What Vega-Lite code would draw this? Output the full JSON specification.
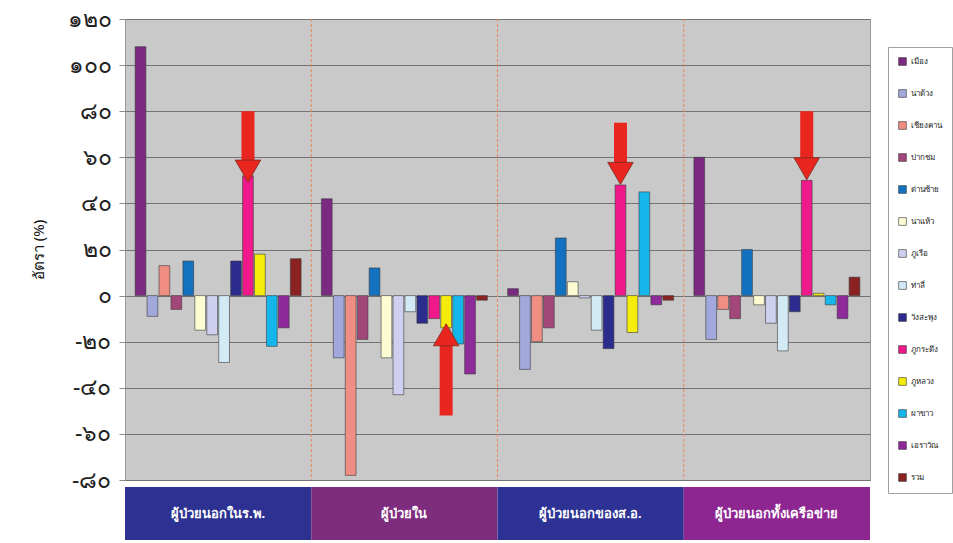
{
  "$schema": "https://vega.github.io/schema/vega-lite/v6.json",
  "padding": {"left": 30, "top": 7, "right": 0, "bottom": 0},
  "background": "white",
  "spacing": 7,
  "bounds": "flush",
  "config": {
    "font": "Noto Sans",
    "view": {"stroke": null},
    "legend": {
      "orient": "none",
      "legendX": 763,
      "legendY": 28,
      "title": null,
      "symbolType": "square",
      "symbolSize": 60,
      "symbolStrokeColor": "#333333",
      "symbolStrokeWidth": 0.6,
      "labelFontSize": 8,
      "labelColor": "#222222",
      "labelLimit": 40,
      "rowPadding": 21,
      "padding": 10,
      "strokeColor": "#a0a0a0",
      "fillColor": "white"
    }
  },
  "datasets": {
    "rates": [
      {"group": "ผู้ป่วยนอกในร.พ.", "district": "เมือง", "rate": 108},
      {"group": "ผู้ป่วยนอกในร.พ.", "district": "นาด้วง", "rate": -9},
      {"group": "ผู้ป่วยนอกในร.พ.", "district": "เชียงคาน", "rate": 13},
      {"group": "ผู้ป่วยนอกในร.พ.", "district": "ปากชม", "rate": -6},
      {"group": "ผู้ป่วยนอกในร.พ.", "district": "ด่านซ้าย", "rate": 15},
      {"group": "ผู้ป่วยนอกในร.พ.", "district": "นาแห้ว", "rate": -15},
      {"group": "ผู้ป่วยนอกในร.พ.", "district": "ภูเรือ", "rate": -17},
      {"group": "ผู้ป่วยนอกในร.พ.", "district": "ท่าลี่", "rate": -29},
      {"group": "ผู้ป่วยนอกในร.พ.", "district": "วังสะพุง", "rate": 15},
      {"group": "ผู้ป่วยนอกในร.พ.", "district": "ภูกระดึง", "rate": 52},
      {"group": "ผู้ป่วยนอกในร.พ.", "district": "ภูหลวง", "rate": 18},
      {"group": "ผู้ป่วยนอกในร.พ.", "district": "ผาขาว", "rate": -22},
      {"group": "ผู้ป่วยนอกในร.พ.", "district": "เอราวัณ", "rate": -14},
      {"group": "ผู้ป่วยนอกในร.พ.", "district": "รวม", "rate": 16},
      {"group": "ผู้ป่วยใน", "district": "เมือง", "rate": 42},
      {"group": "ผู้ป่วยใน", "district": "นาด้วง", "rate": -27},
      {"group": "ผู้ป่วยใน", "district": "เชียงคาน", "rate": -78},
      {"group": "ผู้ป่วยใน", "district": "ปากชม", "rate": -19},
      {"group": "ผู้ป่วยใน", "district": "ด่านซ้าย", "rate": 12},
      {"group": "ผู้ป่วยใน", "district": "นาแห้ว", "rate": -27},
      {"group": "ผู้ป่วยใน", "district": "ภูเรือ", "rate": -43},
      {"group": "ผู้ป่วยใน", "district": "ท่าลี่", "rate": -7},
      {"group": "ผู้ป่วยใน", "district": "วังสะพุง", "rate": -12},
      {"group": "ผู้ป่วยใน", "district": "ภูกระดึง", "rate": -10},
      {"group": "ผู้ป่วยใน", "district": "ภูหลวง", "rate": -14},
      {"group": "ผู้ป่วยใน", "district": "ผาขาว", "rate": -21},
      {"group": "ผู้ป่วยใน", "district": "เอราวัณ", "rate": -34},
      {"group": "ผู้ป่วยใน", "district": "รวม", "rate": -2},
      {"group": "ผู้ป่วยนอกของส.อ.", "district": "เมือง", "rate": 3},
      {"group": "ผู้ป่วยนอกของส.อ.", "district": "นาด้วง", "rate": -32},
      {"group": "ผู้ป่วยนอกของส.อ.", "district": "เชียงคาน", "rate": -20},
      {"group": "ผู้ป่วยนอกของส.อ.", "district": "ปากชม", "rate": -14},
      {"group": "ผู้ป่วยนอกของส.อ.", "district": "ด่านซ้าย", "rate": 25},
      {"group": "ผู้ป่วยนอกของส.อ.", "district": "นาแห้ว", "rate": 6},
      {"group": "ผู้ป่วยนอกของส.อ.", "district": "ภูเรือ", "rate": -1},
      {"group": "ผู้ป่วยนอกของส.อ.", "district": "ท่าลี่", "rate": -15},
      {"group": "ผู้ป่วยนอกของส.อ.", "district": "วังสะพุง", "rate": -23},
      {"group": "ผู้ป่วยนอกของส.อ.", "district": "ภูกระดึง", "rate": 48},
      {"group": "ผู้ป่วยนอกของส.อ.", "district": "ภูหลวง", "rate": -16},
      {"group": "ผู้ป่วยนอกของส.อ.", "district": "ผาขาว", "rate": 45},
      {"group": "ผู้ป่วยนอกของส.อ.", "district": "เอราวัณ", "rate": -4},
      {"group": "ผู้ป่วยนอกของส.อ.", "district": "รวม", "rate": -2},
      {"group": "ผู้ป่วยนอกทั้งเครือข่าย", "district": "เมือง", "rate": 60},
      {"group": "ผู้ป่วยนอกทั้งเครือข่าย", "district": "นาด้วง", "rate": -19},
      {"group": "ผู้ป่วยนอกทั้งเครือข่าย", "district": "เชียงคาน", "rate": -6},
      {"group": "ผู้ป่วยนอกทั้งเครือข่าย", "district": "ปากชม", "rate": -10},
      {"group": "ผู้ป่วยนอกทั้งเครือข่าย", "district": "ด่านซ้าย", "rate": 20},
      {"group": "ผู้ป่วยนอกทั้งเครือข่าย", "district": "นาแห้ว", "rate": -4},
      {"group": "ผู้ป่วยนอกทั้งเครือข่าย", "district": "ภูเรือ", "rate": -12},
      {"group": "ผู้ป่วยนอกทั้งเครือข่าย", "district": "ท่าลี่", "rate": -24},
      {"group": "ผู้ป่วยนอกทั้งเครือข่าย", "district": "วังสะพุง", "rate": -7},
      {"group": "ผู้ป่วยนอกทั้งเครือข่าย", "district": "ภูกระดึง", "rate": 50},
      {"group": "ผู้ป่วยนอกทั้งเครือข่าย", "district": "ภูหลวง", "rate": 1},
      {"group": "ผู้ป่วยนอกทั้งเครือข่าย", "district": "ผาขาว", "rate": -4},
      {"group": "ผู้ป่วยนอกทั้งเครือข่าย", "district": "เอราวัณ", "rate": -10},
      {"group": "ผู้ป่วยนอกทั้งเครือข่าย", "district": "รวม", "rate": 8}
    ],
    "arrows": [
      {"group": "ผู้ป่วยนอกในร.พ.", "district": "ภูกระดึง", "tail": 80, "head": 54, "direction": "down"},
      {"group": "ผู้ป่วยใน", "district": "ภูหลวง", "tail": -52, "head": -17, "direction": "up"},
      {"group": "ผู้ป่วยนอกของส.อ.", "district": "ภูกระดึง", "tail": 75, "head": 53, "direction": "down"},
      {"group": "ผู้ป่วยนอกทั้งเครือข่าย", "district": "ภูกระดึง", "tail": 80, "head": 55, "direction": "down"}
    ],
    "groups": [
      {"group": "ผู้ป่วยนอกในร.พ."},
      {"group": "ผู้ป่วยใน"},
      {"group": "ผู้ป่วยนอกของส.อ."},
      {"group": "ผู้ป่วยนอกทั้งเครือข่าย"}
    ]
  },
  "vconcat": [
    {
      "width": 745,
      "height": 461,
      "view": {"fill": "#c9c9c9", "stroke": "#9a9a9a"},
      "layer": [
        {
          "data": {"name": "rates"},
          "mark": {"type": "bar", "stroke": "#3a3a3a", "strokeWidth": 0.6},
          "encoding": {
            "x": {
              "field": "group", "type": "nominal",
              "scale": {"domain": ["ผู้ป่วยนอกในร.พ.", "ผู้ป่วยใน", "ผู้ป่วยนอกของส.อ.", "ผู้ป่วยนอกทั้งเครือข่าย"], "paddingInner": 0, "paddingOuter": 0},
              "axis": null
            },
            "xOffset": {
              "field": "district", "type": "nominal",
              "scale": {"domain": ["เมือง", "นาด้วง", "เชียงคาน", "ปากชม", "ด่านซ้าย", "นาแห้ว", "ภูเรือ", "ท่าลี่", "วังสะพุง", "ภูกระดึง", "ภูหลวง", "ผาขาว", "เอราวัณ", "รวม"], "paddingInner": 0.1, "paddingOuter": 0.85}
            },
            "y": {
              "field": "rate", "type": "quantitative",
              "scale": {"domain": [-80, 120], "nice": false},
              "axis": {
                "values": [-80, -60, -40, -20, 0, 20, 40, 60, 80, 100, 120],
                "labelExpr": "datum.value == 120 ? '๑๒๐' : datum.value == 100 ? '๑๐๐' : datum.value == 80 ? '๘๐' : datum.value == 60 ? '๖๐' : datum.value == 40 ? '๔๐' : datum.value == 20 ? '๒๐' : datum.value == 0 ? '๐' : datum.value == -20 ? '-๒๐' : datum.value == -40 ? '-๔๐' : datum.value == -60 ? '-๖๐' : '-๘๐'",
                "labelFontSize": 23,
                "labelFontWeight": "normal",
                "labelColor": "#222222",
                "labelPadding": 8,
                "tickSize": 6,
                "tickColor": "#8a8a8a",
                "domain": false,
                "gridColor": "#737373",
                "gridWidth": 1,
                "title": "อัตรา (%)",
                "titleFontSize": 15,
                "titleFontWeight": "normal",
                "titleColor": "#111111",
                "titlePadding": 21
              }
            },
            "color": {
              "field": "district", "type": "nominal",
              "scale": {
                "domain": ["เมือง", "นาด้วง", "เชียงคาน", "ปากชม", "ด่านซ้าย", "นาแห้ว", "ภูเรือ", "ท่าลี่", "วังสะพุง", "ภูกระดึง", "ภูหลวง", "ผาขาว", "เอราวัณ", "รวม"],
                "range": ["#7a2a80", "#a2a8dc", "#f08e84", "#a3477a", "#1272c0", "#fdfbd2", "#cfcff0", "#d2eaf5", "#2c2c8e", "#f0198c", "#f6ec0c", "#14b6ec", "#8e2a9a", "#8a2222"]
              }
            }
          }
        },
        {
          "mark": {"type": "rule", "color": "#111111", "strokeWidth": 3},
          "encoding": {"y": {"datum": 0}}
        },
        {
          "data": {"name": "groups"},
          "transform": [{"filter": "datum.group != 'ผู้ป่วยนอกในร.พ.'"}],
          "mark": {"type": "rule", "color": "#e8875a", "strokeWidth": 1, "strokeDash": [3, 2]},
          "encoding": {
            "x": {"field": "group", "type": "nominal", "bandPosition": 0}
          }
        },
        {
          "data": {"name": "arrows"},
          "mark": {"type": "rule", "color": "#e8261f", "strokeWidth": 13},
          "encoding": {
            "x": {"field": "group", "type": "nominal"},
            "xOffset": {"field": "district", "type": "nominal"},
            "y": {"field": "tail", "type": "quantitative"},
            "y2": {"field": "head"}
          }
        },
        {
          "data": {"name": "arrows"},
          "mark": {"type": "point", "filled": true, "color": "#e8261f", "size": 650, "opacity": 1, "stroke": "#7a2a20", "strokeWidth": 0.8},
          "encoding": {
            "x": {"field": "group", "type": "nominal"},
            "xOffset": {"field": "district", "type": "nominal"},
            "y": {"field": "head", "type": "quantitative"},
            "shape": {
              "field": "direction", "type": "nominal",
              "scale": {"domain": ["down", "up"], "range": ["triangle-down", "triangle-up"]},
              "legend": null
            }
          }
        }
      ]
    },
    {
      "width": 745,
      "height": 53,
      "data": {"name": "groups"},
      "layer": [
        {
          "mark": {"type": "rect"},
          "encoding": {
            "x": {
              "field": "group", "type": "nominal",
              "scale": {"domain": ["ผู้ป่วยนอกในร.พ.", "ผู้ป่วยใน", "ผู้ป่วยนอกของส.อ.", "ผู้ป่วยนอกทั้งเครือข่าย"], "paddingInner": 0, "paddingOuter": 0},
              "axis": null
            },
            "color": {
              "field": "group", "type": "nominal",
              "scale": {"domain": ["ผู้ป่วยนอกในร.พ.", "ผู้ป่วยใน", "ผู้ป่วยนอกของส.อ.", "ผู้ป่วยนอกทั้งเครือข่าย"], "range": ["#2d3192", "#7e2c7e", "#2d3294", "#8e2692"]},
              "legend": null
            }
          }
        },
        {
          "mark": {"type": "text", "color": "white", "fontSize": 13, "fontWeight": "bold"},
          "encoding": {
            "x": {"field": "group", "type": "nominal"},
            "text": {"field": "group"}
          }
        }
      ]
    }
  ],
  "resolve": {"scale": {"color": "independent", "x": "independent"}}
}
